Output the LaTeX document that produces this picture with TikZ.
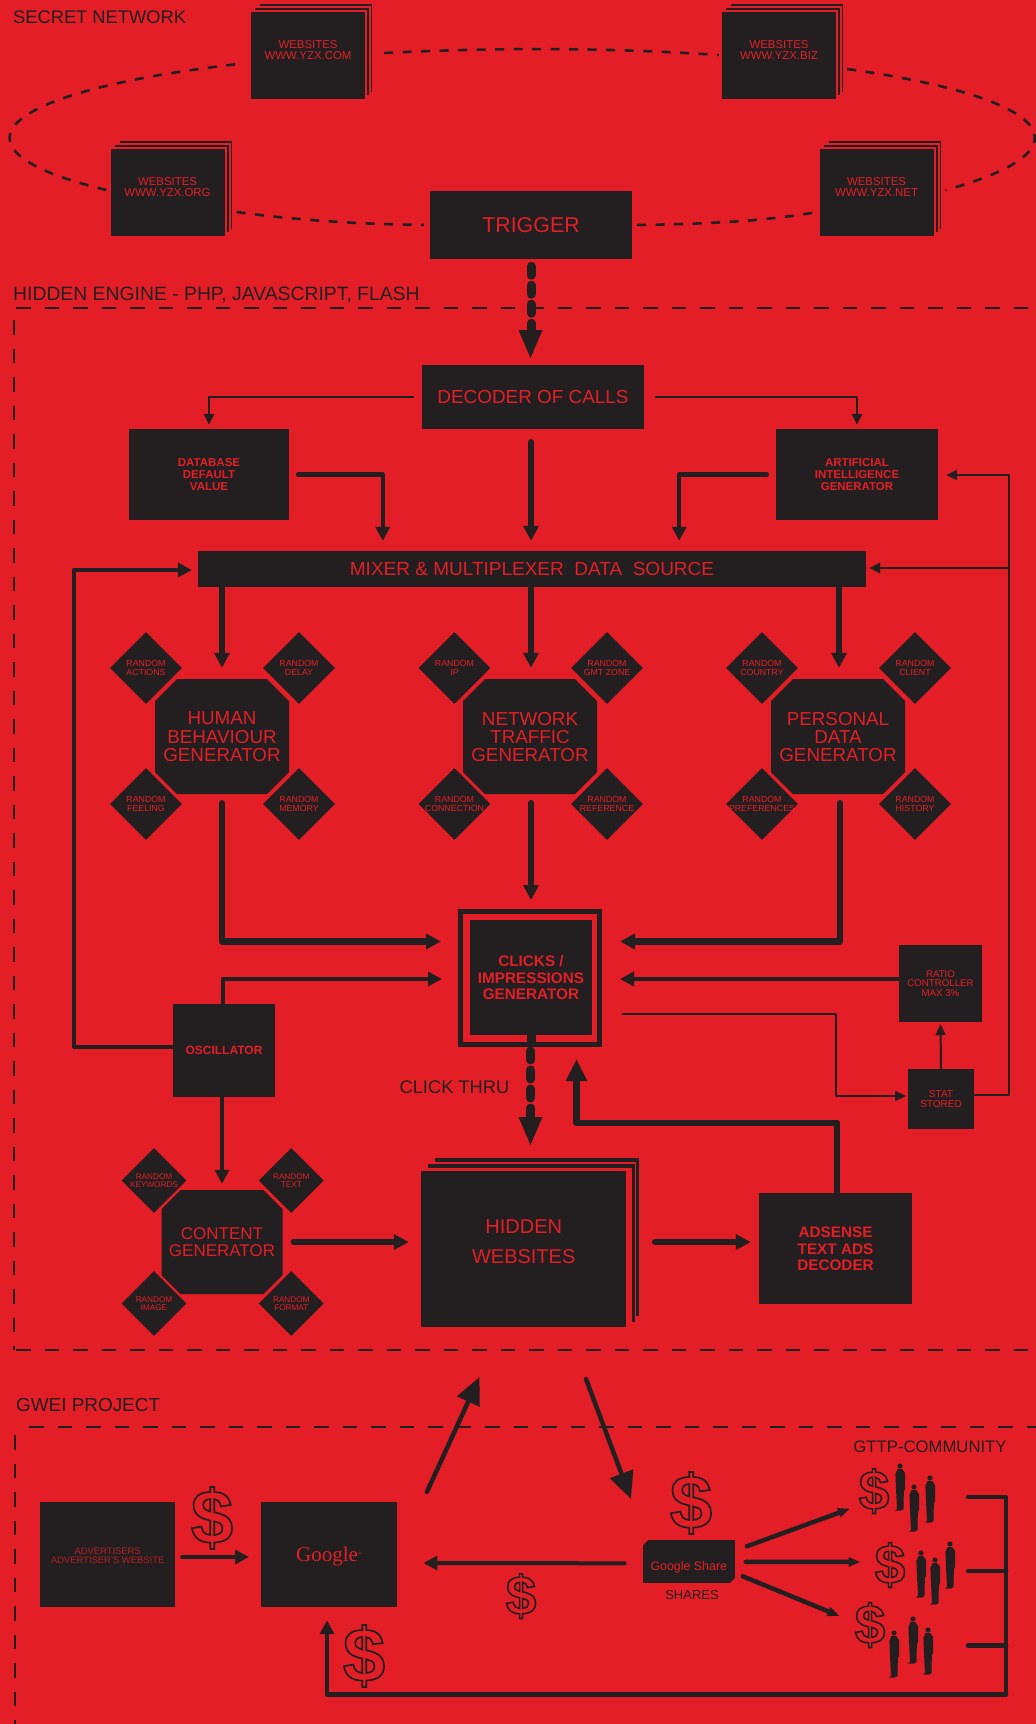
\documentclass[tikz,border=0pt]{standalone}
\usepackage{fontspec}
\setmainfont{Liberation Sans}
\newfontfamily\serifg{Liberation Serif}
\usetikzlibrary{shapes.geometric,arrows.meta,calc}
\definecolor{bgred}{HTML}{E31E26}
\definecolor{ink}{HTML}{231F20}
% centred text of zero size, raised by #1
\newcommand{\ctr}[2]{\smash{\makebox[0pt]{\raisebox{\dimexpr#1-0.25em\relax}{\parbox[c]{800pt}{\centering #2}}}}}
\newcommand{\fs}[2]{\fontsize{#1}{#2}\selectfont}
% outlined glyph
\newcommand{\outl}[2]{\special{pdf:code 1 Tr #1 w}#2\special{pdf:code 0 Tr}}
\newcommand{\person}[2]{%
  \fill[ink] (#1,#2+3) circle[radius=2.6];
  \fill[ink] (#1-2.5,#2+6) -- (#1+2.2,#2+6) -- (#1+5,#2+10) -- (#1+5.2,#2+26) -- (#1+3.8,#2+28)
     -- (#1+3.6,#2+46) -- (#1+1,#2+47.5) -- (#1-5,#2+47.5) -- (#1-3,#2+46) -- (#1-4,#2+26) -- (#1-4.6,#2+11) -- cycle;}
% octagon: centre x, centre y, half width, half height, cut
\newcommand{\octa}[5]{\fill[ink] (#1-#3+#5,#2-#4) -- (#1+#3-#5,#2-#4) -- (#1+#3,#2-#4+#5) -- (#1+#3,#2+#4-#5)
   -- (#1+#3-#5,#2+#4) -- (#1-#3+#5,#2+#4) -- (#1-#3,#2+#4-#5) -- (#1-#3,#2-#4+#5) -- cycle;}
\tikzset{
  box/.style={fill=ink,inner sep=0pt,text=bgred,align=center},
  dia/.style={diamond,aspect=1,fill=ink,inner sep=0pt,minimum width=72pt,minimum height=72pt,text=bgred,font=\fs{8.8}{9.4}},
  smalldia/.style={dia,minimum width=65pt,minimum height=65pt,font=\fs{8.2}{8}},
  oct/.style={inner sep=0pt,text=bgred,minimum width=134pt,minimum height=115pt,font=\fs{18.8}{18.3}},
  label/.style={text=ink,inner sep=0pt,font=\fs{18.3}{20}},
  dollar/.style={text=ink,inner sep=0pt},
  netdash/.style={draw=ink,line width=2.6pt,dash pattern=on 9pt off 9.5pt},
  secdash/.style={draw=ink,line width=2pt,dash pattern=on 14.5pt off 14pt},
  fat/.style={draw=ink,line width=6.5pt,line cap=round,line join=round,-{Triangle[length=15pt,width=15pt]}},
  mid/.style={draw=ink,line width=4.5pt,line cap=round,line join=round,-{Triangle[length=14pt,width=14pt]}},
  thinarrow/.style={draw=ink,line width=2.5pt,line join=round,-{Triangle[length=11pt,width=10pt]}},
  slim/.style={draw=ink,line width=4.5pt,line cap=round,-{Triangle[length=12pt,width=9pt]}},
  bigarrow/.style={draw=ink,line width=4.5pt,line cap=round,-{Triangle[length=27pt,width=24pt]}},
  dotted thick/.style={draw=ink,line width=9pt,line cap=round,dash pattern=on 9pt off 10pt},
}
\begin{document}
\begin{tikzpicture}[x=1pt,y=-1pt]
\useasboundingbox (0,0) rectangle (1036,1724);
\fill[bgred] (0,0) rectangle (1036,1724);

% section labels and frames
\node[label,anchor=west] (lsec) at (13,17) {SECRET NETWORK};
\node[label,anchor=west,font=\fs{19.35}{20}] (lhid) at (13,295) {HIDDEN ENGINE - PHP, JAVASCRIPT, FLASH};
\node[label,anchor=west,font=\fs{18.9}{20}] (lgwe) at (16,1405) {GWEI PROJECT};
\coordinate (h1) at (14,308); \coordinate (h2) at (1036,308);
\coordinate (h3) at (14,1350); \coordinate (h4) at (1036,1350);
\coordinate (g1) at (15,1427); \coordinate (g2) at (1036,1427); \coordinate (g3) at (15,1724);
\draw[secdash] (h1) ++(2,0) -- (h2);
\draw[secdash] (h1) ++(0,12) -- (h3);
\draw[secdash] (h3) ++(2,0) -- (h4);
\draw[secdash] (g1) ++(14,0) -- (g2);
\draw[secdash] (g1) ++(0,8) -- (g3);

% website stacks
\foreach \x/\y in {251/12,722/12,111/149,820/149}{
  \fill[ink] (\x+9,\y-8) rectangle (\x+121,\y+80);
  \fill[bgred] (\x+6,\y-6) rectangle (\x+119.5,\y+84);
  \fill[ink] (\x+4,\y-4.5) rectangle (\x+117.5,\y+83);
  \fill[bgred] (\x+2,\y-2) rectangle (\x+115.5,\y+87);
}
\tikzset{site/.style={box,minimum width=114pt,minimum height=87pt,font=\fs{11.4}{10.5}}}
\node[site] (com) at (308,55.5) {\ctr{5.5pt}{WEBSITES\\WWW.YZX.COM}};
\node[site] (biz) at (779,55.5) {\ctr{5.5pt}{WEBSITES\\WWW.YZX.BIZ}};
\node[site] (org) at (167.5,192.5) {\ctr{5.5pt}{WEBSITES\\WWW.YZX.ORG}};
\node[site] (net) at (876.5,192.5) {\ctr{5.5pt}{WEBSITES\\WWW.YZX.NET}};
\node[box,minimum width=202pt,minimum height=68pt,font=\fs{21.4}{20}] (trig) at (531,225) {\ctr{0pt}{TRIGGER}};

\draw[netdash] ($(com.east)+(19,-2.5)$) .. controls (495,47.5) and (607,47.5) .. ($(biz.west)+(-3,-0.5)$);
\draw[netdash] ($(biz.east)+(11,13.5)$) .. controls (1053,98) and (1095,149) .. ($(net.east)+(12,-2.5)$);
\draw[netdash] ($(trig.east)+(5,0)$) .. controls (700,224) and (760,222) .. ($(net.west)+(-2,19.5)$);
\draw[netdash] ($(org.east)+(12,19.5)$) .. controls (295,220) and (355,224) .. ($(trig.west)+(-6,0)$);
\draw[netdash] ($(org.west)+(-4,-2.5)$) .. controls (-64,149) and (-4,91) .. ($(com.west)+(-8,8)$);

% decoder row
\node[box,minimum width=222.5pt,minimum height=64pt,font=\fs{18.9}{18}] (dec) at (533,397) {\ctr{0pt}{DECODER OF CALLS}};
\tikzset{b11/.style={box,font=\bfseries\fs{11.5}{12}}}
\node[b11,minimum width=160pt,minimum height=91pt] (db) at (209,474.5) {\ctr{0pt}{DATABASE\\DEFAULT\\VALUE}};
\node[b11,minimum width=162pt,minimum height=91pt] (ai) at (857,474.5) {\ctr{0pt}{ARTIFICIAL\\INTELLIGENCE\\GENERATOR}};
\node[box,minimum width=668pt,minimum height=36pt,font=\fs{19}{18}] (mix) at (532,569) {\ctr{0pt}{MIXER \& MULTIPLEXER\ \ DATA\ \ SOURCE}};

% generators
\octa{222}{736.5}{67}{57.5}{22}
\octa{530}{736.5}{67}{57.5}{22}
\octa{838}{736.5}{67}{57.5}{22}
\node[oct] (hum) at (222,736.5) {\ctr{0pt}{HUMAN\\BEHAVIOUR\\GENERATOR}};
\node[oct] (ntw) at (530,736.5) {\ctr{0pt}{NETWORK\\TRAFFIC\\GENERATOR}};
\node[oct] (per) at (838,736.5) {\ctr{0pt}{PERSONAL\\DATA\\GENERATOR}};
\node[dia] (h1d) at (146,668) {\ctr{0pt}{RANDOM\\ACTIONS}};
\node[dia] (h2d) at (299,668) {\ctr{0pt}{RANDOM\\DELAY}};
\node[dia] (h3d) at (146,804) {\ctr{0pt}{RANDOM\\FEELING}};
\node[dia] (h4d) at (299,804) {\ctr{0pt}{RANDOM\\MEMORY}};
\node[dia] (n1d) at (454.5,668) {\ctr{0pt}{RANDOM\\IP}};
\node[dia] (n2d) at (607,668) {\ctr{0pt}{RANDOM\\GMT ZONE}};
\node[dia] (n3d) at (454.5,804) {\ctr{0pt}{RANDOM\\CONNECTION}};
\node[dia] (n4d) at (607,804) {\ctr{0pt}{RANDOM\\REFERENCE}};
\node[dia] (p1d) at (762,668) {\ctr{0pt}{RANDOM\\COUNTRY}};
\node[dia] (p2d) at (915,668) {\ctr{0pt}{RANDOM\\CLIENT}};
\node[dia] (p3d) at (762,804) {\ctr{0pt}{RANDOM\\PREFERENCES}};
\node[dia] (p4d) at (915,804) {\ctr{0pt}{RANDOM\\HISTORY}};

% clicks generator
\node[draw=ink,line width=5pt,minimum width=139pt,minimum height=133pt,inner sep=0pt] (frm) at (530,978) {};
\node[box,minimum width=122pt,minimum height=115pt,font=\bfseries\fs{15.3}{16.3}] (clk) at (531,977.5) {\ctr{0pt}{CLICKS /\\IMPRESSIONS\\GENERATOR}};
\fill[ink] (526.5,1035) rectangle (535.5,1047);
\node[label] (thru) at (454.5,1087) {CLICK THRU};

% lower row
\node[box,minimum width=102pt,minimum height=93pt,font=\bfseries\fs{12}{12}] (osc) at (224,1050) {\ctr{0pt}{OSCILLATOR}};
\node[box,minimum width=83pt,minimum height=77pt,font=\fs{9.7}{9.7}] (rat) at (940.5,983.5) {\ctr{0pt}{RATIO\\CONTROLLER\\MAX 3\%}};
\node[box,minimum width=65.5pt,minimum height=60pt,font=\fs{10}{9.7}] (sta) at (941,1099) {\ctr{0pt}{STAT\\STORED}};
\octa{222}{1242}{60.5}{52}{19}
\node[oct,minimum width=121pt,minimum height=104pt,font=\fs{17}{17}] (con) at (222,1242) {\ctr{0pt}{CONTENT\\GENERATOR}};
\node[smalldia] (c1d) at (154,1180.5) {\ctr{0pt}{RANDOM\\KEYWORDS}};
\node[smalldia] (c2d) at (291.3,1180.5) {\ctr{0pt}{RANDOM\\TEXT}};
\node[smalldia] (c3d) at (154,1303.5) {\ctr{0pt}{RANDOM\\IMAGE}};
\node[smalldia] (c4d) at (291.3,1303.5) {\ctr{0pt}{RANDOM\\FORMAT}};

% hidden websites stack
\fill[ink] (435,1157.5) rectangle (639.3,1316);
\fill[bgred] (432,1161.5) rectangle (636,1322);
\fill[ink] (428,1163.5) rectangle (634.5,1322);
\fill[bgred] (425,1168.3) rectangle (632,1327);
\node[box,minimum width=204.5pt,minimum height=156.5pt,font=\fs{20}{30}] (hid) at (523.7,1249) {\ctr{7pt}{HIDDEN\\WEBSITES}};
\node[box,minimum width=153pt,minimum height=111pt,font=\bfseries\fs{15.3}{16.5}] (ads) at (835.5,1248.5) {\ctr{0pt}{ADSENSE\\TEXT ADS\\DECODER}};

% connectors: network to engine
\draw[dotted thick] (trig.south) ++(0,7) -- ++(0,66);
\fill[ink] (518.5,330) -- (542.5,330) -- (530.5,358) -- cycle;
\draw[thinarrow] (dec.west) ++(-8,0) -| ($(db.north)+(0,-4)$);
\draw[thinarrow] (dec.east) ++(11,0) -| ($(ai.north)+(0,-4)$);
\draw[fat] (dec.south) ++(-2,13) -- ($(mix.north)+(-1,-10)$);
\draw[mid] (db.east) ++(9,0) -| ($(mix.north west)+(185,-10)$);
\draw[mid] (ai.west) ++(-9,0) -| ($(mix.north east)+(-187,-10)$);
\draw[fat,line cap=butt] (hum.north |- mix.south) -- ($(hum.north)+(0,-11)$);
\draw[fat,line cap=butt] (ntw.north |- mix.south) ++(1,0) -- ($(ntw.north)+(1,-11)$);
\draw[fat,line cap=butt] (per.north |- mix.south) ++(1,0) -- ($(per.north)+(1,-11)$);
\draw[fat] (hum.south) ++(0,9) |- ($(frm.west)+(-17,-36.5)$);
\draw[fat] (ntw.south) ++(1,9) -- ($(frm.north)+(1,-9)$);
\draw[fat] (per.south) ++(2,9) |- ($(frm.east)+(18,-36.5)$);
\draw[mid] (osc.north) ++(-1,0) |- ($(frm.west)+(-16,1)$);
\draw[mid] ($(rat.west)+(0,-4.5)$) -- ($(frm.east)+(18,1)$);
\draw[thinarrow,-{Triangle[length=14pt,width=14pt]},line width=4pt] (osc.west) ++(0,-3) -- ++(-99,0) |- ($(mix.west)+(-6,1)$);
\draw[mid] (osc.south) ++(-2,0) -- ($(con.north)+(0,-6)$);
\draw[fat] (con.east) ++(11,0) -- ($(hid.west)+(-12.5,-7)$);
\draw[fat] (hid.east) ++(29,-7) -- ($(ads.west)+(-8,-6.5)$);
\coordinate (ctip) at (576.5,1059);
\draw[fat,line cap=butt,-{Triangle[length=22pt,width=20pt]}] (ads.north) ++(1.5,0) |- (576.5,1123) -- (ctip);
\draw[thinarrow,line width=2pt] (frm.east) ++(20,36) -| ($(sta.west)+(-72,-3)$) -- ($(sta.west)+(-2,-3)$);
\draw[thinarrow,line width=2pt] (sta.north) -- ($(rat.south)+(0,2)$);
\coordinate (rise) at (1009,475);
\coordinate (jn) at (1009,568);
\draw[thinarrow] (sta.east) ++(0,-4) -| (rise) -- ($(ai.east)+(8,0.5)$);
\draw[thinarrow] (jn) -- ($(mix.east)+(3,-1)$);
% click thru
\draw[dotted thick] (frm.south) ++(0.6,4) -- ++(0,66);
\fill[ink] (518.5,1117) -- (542.5,1117) -- (530.5,1145) -- cycle;

% GWEI
\node[box,minimum width=135.5pt,minimum height=105pt,font=\fs{9.4}{9.3},text=bgred!75!ink] (adv) at (107.7,1554.5) {\ctr{-1pt}{ADVERTISERS\\ADVERTISER'S WEBSITE}};
\node[box,minimum width=135.5pt,minimum height=105pt,font=\serifg\fs{21}{20}] (goo) at (329,1554.5) {\ctr{-2pt}{Google\raisebox{6pt}{\fs{4}{4}™}}};
\node[box,minimum width=91.7pt,minimum height=42.7pt,font=\fs{12.4}{12.4}] (sha) at (688.8,1561.3) {\ctr{-5.5pt}{Google Share}};
\fill[bgred] (642,1539) -- (649,1539) -- (642,1546) -- cycle;
\fill[bgred] (736,1584) -- (729,1584) -- (736,1577) -- cycle;
\node[text=ink,inner sep=0pt,font=\fs{13}{13}] (shl) at (692,1595) {SHARES};
\node[text=ink,inner sep=0pt,font=\fs{16.7}{17}] (gtt) at (930,1447) {GTTP-COMMUNITY};

\tikzset{bigd/.style={dollar,font=\bfseries\fs{76}{76}},lild/.style={dollar,font=\bfseries\fs{55}{55}}}
\node[bigd] (d1) at (212,1518) {\outl{1.7}{\$}};
\node[lild] (d2) at (521,1596) {\outl{1.6}{\$}};
\node[bigd] (d3) at (364,1656) {\outl{1.7}{\$}};
\node[bigd] (d4) at (691,1503) {\outl{1.7}{\$}};
\node[lild] (d5) at (874,1491) {\outl{1.6}{\$}};
\node[lild] (d6) at (890,1565) {\outl{1.6}{\$}};
\node[lild] (d7) at (870,1625) {\outl{1.6}{\$}};

\person{900}{1463}\person{914}{1484}\person{930}{1475}
\person{921}{1550}\person{935}{1557}\person{950}{1541}
\person{894}{1630}\person{913}{1616}\person{928}{1627}

\draw[mid,line width=4pt] (adv.east) ++(6.5,2.5) -- ($(goo.west)+(-12,2.5)$);
\draw[mid,line width=4pt] (sha.west) ++(-18,2) -- ($(goo.east)+(26.5,8.5)$);
\draw[bigarrow] (goo.north east) ++(30,-10) -- (479.5,1377);
\draw[bigarrow] (586,1379) -- (631,1499);
\draw[slim] (sha.east) ++(12,-15) -- ($(d5.south)+(-24,-5)$);
\draw[slim] (sha.east) ++(11,0.5) -- ($(d6.west)+(-14,-3)$);
\draw[slim] (sha.east) ++(8,15) -- ($(d7.west)+(-15,-9)$);
\coordinate (b1) at (968,1497); \coordinate (b2) at (968,1571); \coordinate (b3) at (968,1645.7);
\coordinate (br) at (1006,1694.7);
\draw[draw=ink,line width=4.5pt,line cap=round,line join=round] (b1) -| (br);
\draw[draw=ink,line width=4.5pt,line cap=round] (b2) -- (b2 -| br);
\draw[draw=ink,line width=4.5pt,line cap=round] (b3) -- (b3 -| br);
\draw[mid] (br) -| ($(goo.south)+(-2,13)$);
\end{tikzpicture}
\end{document}
